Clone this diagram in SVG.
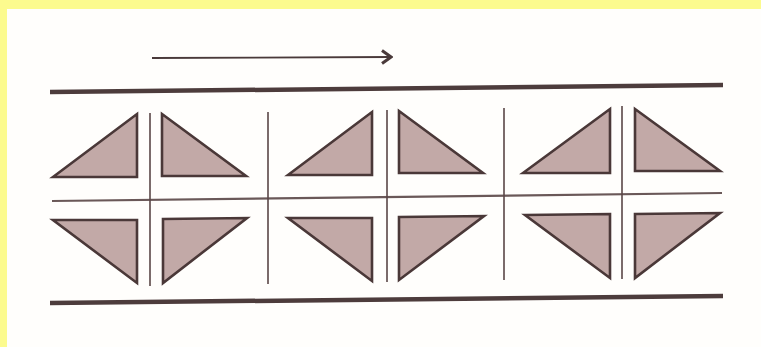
<svg xmlns="http://www.w3.org/2000/svg" width="761" height="347" viewBox="0 0 761 347">
<defs>
<style>
.tri{fill:#c2a9a7;stroke:#4a3838;stroke-width:2.6;stroke-linejoin:miter}
.thick{stroke:#4d3c3c;stroke-width:4.5;stroke-linecap:butt}
.thin{stroke:#5a4646;stroke-width:1.6}
.mid{stroke:#6a5858;stroke-width:2.2}
</style>
<marker id="ah" viewBox="0 0 14 16" refX="12" refY="8" markerWidth="14" markerHeight="16" markerUnits="userSpaceOnUse" orient="auto">
<path d="M3,1.5 L12,8 L3,14.5" fill="none" stroke="#4a3a3a" stroke-width="3"/>
</marker>
</defs>
<rect width="761" height="347" fill="#fffefc"/>
<rect x="0" y="0" width="761" height="9" fill="#fcfb8e"/>
<rect x="0" y="0" width="7" height="347" fill="#fcfb8e"/>
<g id="connectors">
<line x1="152" y1="58" x2="391" y2="57" stroke="#4a3a3a" stroke-width="1.8" marker-end="url(#ah)"/>
<line class="thick" x1="50" y1="92" x2="723" y2="85"/>
<line class="thick" x1="50" y1="303" x2="723" y2="296"/>
<line class="mid" x1="52" y1="201" x2="722" y2="193"/>
<line class="thin" x1="150" y1="113" x2="150" y2="286"/>
<line class="thin" x1="268" y1="112" x2="268" y2="284"/>
<line class="thin" x1="387" y1="110" x2="387" y2="282"/>
<line class="thin" x1="504" y1="108" x2="504" y2="280"/>
<line class="thin" x1="622" y1="106" x2="622" y2="279"/>
</g>
<g id="t1"><polygon class="tri" points="53,177 137,114 137,177"/></g>
<g id="t2"><polygon class="tri" points="162,114 246,176 162,176"/></g>
<g id="t3"><polygon class="tri" points="288,175 372,112 372,175"/></g>
<g id="t4"><polygon class="tri" points="399,111 483,173 399,173"/></g>
<g id="t5"><polygon class="tri" points="523,173 610,109 610,173"/></g>
<g id="t6"><polygon class="tri" points="635,109 720,171 635,171"/></g>
<g id="b1"><polygon class="tri" points="53,220 137,220 137,283"/></g>
<g id="b2"><polygon class="tri" points="163,219 247,218 163,283"/></g>
<g id="b3"><polygon class="tri" points="288,218 372,218 372,281"/></g>
<g id="b4"><polygon class="tri" points="399,217 484,216 399,280"/></g>
<g id="b5"><polygon class="tri" points="525,215 610,214 610,278"/></g>
<g id="b6"><polygon class="tri" points="635,214 720,213 635,278"/></g>
</svg>
